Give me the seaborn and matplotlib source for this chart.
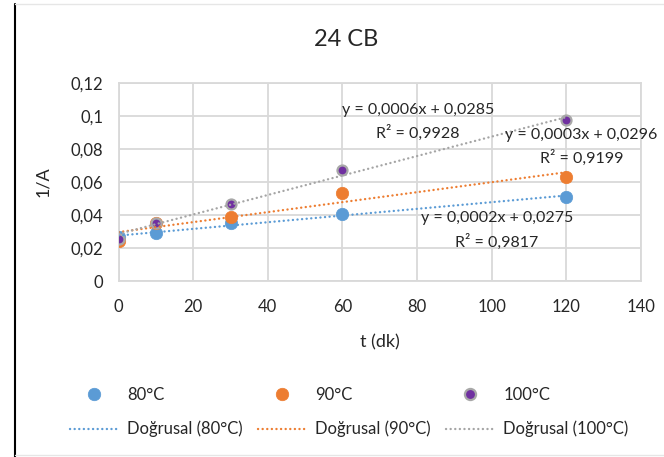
import numpy as np
import pandas as pd
import matplotlib
matplotlib.use("Agg")
import matplotlib.pyplot as plt
from matplotlib.lines import Line2D
from matplotlib.ticker import FuncFormatter
import seaborn as sns

# Measurements: time (min) and 1/A for each temperature
t_dk = [0, 10, 30, 60, 120]
inv_a_80 = [0.0266, 0.0288, 0.0351, 0.0405, 0.0510]
inv_a_90 = [0.0245, 0.0350, 0.0388, 0.0535, 0.0628]
inv_a_100 = [0.0257, 0.0354, 0.0463, 0.0671, 0.0974]

series_names = ["80°C", "90°C", "100°C"]
# Linear trendline coefficients and R² for each series
slopes = [0.000202, 0.000302, 0.000589]
intercepts = [0.0275, 0.0296, 0.0285]
r_squared = [0.9817, 0.9199, 0.9928]

x_ticks = [0, 20, 40, 60, 80, 100, 120, 140]
y_ticks = [0, 0.02, 0.04, 0.06, 0.08, 0.10, 0.12]

sns.set_theme(style="white")
plt.rcParams["font.family"] = ["Lato", "DejaVu Sans"]

text_col = "#262626"
grid_col = "#D9D9D9"
marker_cols = ["#5B9BD5", "#ED7D31", "#7030A0"]
trend_cols = ["#5B9BD5", "#ED7D31", "#A5A5A5"]
edge_cols = ["#5B9BD5", "#ED7D31", "#A8A8A8"]
sizes = [80, 80, 52]
edge_w = [0.5, 0.5, 1.6]

fig = plt.figure(figsize=(6.64, 4.57), dpi=100, facecolor="white")
ax = fig.add_axes([118.6 / 664, 1 - 281 / 457, (641 - 118.6) / 664, (281 - 82.7) / 457])

df = pd.DataFrame({"t": t_dk, "80°C": inv_a_80, "90°C": inv_a_90, "100°C": inv_a_100})

for i, name in enumerate(series_names):
    sns.scatterplot(data=df, x="t", y=name, ax=ax, color=marker_cols[i],
                    edgecolor=edge_cols[i], linewidth=edge_w[i], s=sizes[i],
                    zorder=3, legend=False)

# Round-dot trendline style
dot_style = (0, (0.05, 1.9))
dot_lw = 1.7
x_fit = np.array([min(t_dk), max(t_dk)], dtype=float)
for i, name in enumerate(series_names):
    fit_df = pd.DataFrame({"t": x_fit, "y": slopes[i] * x_fit + intercepts[i]})
    sns.lineplot(data=fit_df, x="t", y="y", ax=ax, color=trend_cols[i],
                 linewidth=dot_lw, linestyle=dot_style, dash_capstyle="round",
                 zorder=4, legend=False)

# Trendline equations
eq_pos = [((101.4, 0.0381), (101.4, 0.0238)),
          ((124.0, 0.0883), (124.2, 0.0744)),
          ((80.2, 0.1035), (80.2, 0.0897))]


def dec(v, n=4):
    return f"{v:.{n}f}".replace(".", ",")


for i in range(3):
    (ex, ey), (rx, ry) = eq_pos[i]
    ax.text(ex, ey, f"y = {dec(slopes[i])}x + {dec(intercepts[i])}", ha="center",
            va="center", fontsize=11.5, color=text_col, zorder=5)
    ax.text(rx, ry, f"R² = {dec(r_squared[i])}", ha="center", va="center",
            fontsize=11.5, color=text_col, zorder=5)

ax.set_xlim(0, 140)
ax.set_ylim(0, 0.12)
ax.set_xticks(x_ticks)
ax.set_yticks(y_ticks)
ax.yaxis.set_major_formatter(FuncFormatter(lambda v, p: f"{v:g}".replace(".", ",")))
ax.xaxis.set_major_formatter(FuncFormatter(lambda v, p: f"{v:g}"))
ax.tick_params(axis="both", length=0, labelsize=12, labelcolor=text_col)
ax.tick_params(axis="x", pad=13)
ax.tick_params(axis="y", pad=11)
ax.grid(True, color=grid_col, linewidth=1.3)
ax.set_axisbelow(True)
for sp in ax.spines.values():
    sp.set_color(grid_col)
    sp.set_linewidth(1.3)

ax.set_xlabel("t (dk)", fontsize=13, color=text_col, labelpad=14)
ax.set_ylabel("1/A", fontsize=13, color=text_col, labelpad=14)

fig.text(346 / 664, 1 - 40 / 457, "24 CB", ha="center", va="center",
         fontsize=17, color=text_col)

# Legend: markers in first row, trendlines in second row
handles, labels = [], []
for i, name in enumerate(series_names):
    handles.append(Line2D([], [], linestyle="none", marker="o",
                          markersize=9 if i < 2 else 8, markerfacecolor=marker_cols[i],
                          markeredgecolor=edge_cols[i], markeredgewidth=edge_w[i]))
    labels.append(name)
    handles.append(Line2D([], [], color=trend_cols[i], linewidth=dot_lw,
                          linestyle=dot_style, dash_capstyle="round"))
    labels.append(f"Doğrusal ({name})")

fig.legend(handles, labels, ncol=3, loc="center", bbox_to_anchor=(349 / 664, 1 - 412 / 457),
           frameon=False, fontsize=12, handlelength=2.9, handletextpad=0.55,
           columnspacing=0.9, labelspacing=1.1, labelcolor=text_col)

# Chart area border
fig.add_artist(Line2D([15 / 664, 15 / 664], [0, 1 - 4 / 457], transform=fig.transFigure,
                      color="black", linewidth=1.5))
fig.add_artist(Line2D([15 / 664, 1], [1 - 4 / 457, 1 - 4 / 457], transform=fig.transFigure,
                      color="#E6E6E6", linewidth=1.0))
fig.add_artist(Line2D([15 / 664, 1], [2 / 457, 2 / 457], transform=fig.transFigure,
                      color="#E6E6E6", linewidth=1.0))

fig.savefig("out.png", dpi=100, facecolor="white")
